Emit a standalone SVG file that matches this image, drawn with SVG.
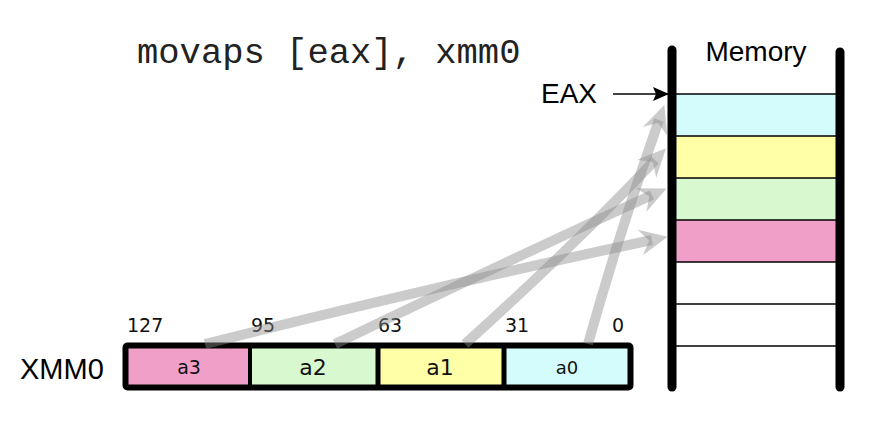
<svg xmlns="http://www.w3.org/2000/svg" width="886" height="428" viewBox="0 0 886 428">
<style>
.sans{font-family:"Liberation Sans",Arial,sans-serif;fill:#000}
.ver{font-family:"DejaVu Sans",Verdana,sans-serif;fill:#111}
.mono{font-family:"Liberation Mono","Courier New",monospace;fill:#222}
.flow{fill:none;stroke:#8c8c8c;stroke-opacity:0.45;stroke-width:10;marker-end:url(#ga)}
.row{stroke:#000;stroke-width:1.5}
.bar{stroke:#000;stroke-width:9;stroke-linecap:round}
</style>
<defs>
<marker id="ga" markerUnits="userSpaceOnUse" markerWidth="30" markerHeight="30" viewBox="0 0 30 30" refX="12" refY="15" orient="auto">
<path d="M0 2 L28 15 L0 28 L9 15 Z" fill="#8c8c8c" fill-opacity="0.45"/>
</marker>
<marker id="ba" markerUnits="userSpaceOnUse" markerWidth="16" markerHeight="16" viewBox="0 0 16 16" refX="15" refY="8" orient="auto">
<path d="M0 1 L16 8 L0 15 L3 8 Z" fill="#000"/>
</marker>
</defs>
<text class="mono" x="137" y="63" font-size="35.5">movaps [eax], xmm0</text>
<g id="memory">
<rect x="676" y="94" width="160" height="42" fill="#d4fcfc"/>
<rect x="676" y="136" width="160" height="42" fill="#ffffa8"/>
<rect x="676" y="178" width="160" height="42" fill="#d8f8d0"/>
<rect x="676" y="220" width="160" height="42" fill="#f0a0c8"/>
<line class="row" x1="676" y1="94" x2="836" y2="94"/>
<line class="row" x1="676" y1="136" x2="836" y2="136"/>
<line class="row" x1="676" y1="178" x2="836" y2="178"/>
<line class="row" x1="676" y1="220" x2="836" y2="220"/>
<line class="row" x1="676" y1="262" x2="836" y2="262"/>
<line class="row" x1="676" y1="304" x2="836" y2="304"/>
<line class="row" x1="676" y1="346" x2="836" y2="346"/>
<line class="bar" x1="672" y1="50" x2="672" y2="387"/>
<line class="bar" x1="840" y1="52" x2="840" y2="387"/>
<text class="sans" x="756" y="61" font-size="28" text-anchor="middle">Memory</text>
</g>
<g id="eax">
<text class="sans" x="541" y="103" font-size="28">EAX</text>
<line x1="613" y1="94" x2="668" y2="94" stroke="#000" stroke-width="1.5" marker-end="url(#ba)"/>
</g>
<g id="xmm0">
<text class="sans" x="20" y="379" font-size="29">XMM0</text>
<rect x="128" y="348" width="122" height="39" fill="#f0a0c8"/>
<rect x="250" y="348" width="128" height="39" fill="#d8f8d0"/>
<rect x="378" y="348" width="125" height="39" fill="#ffffa8"/>
<rect x="503" y="348" width="126" height="39" fill="#d4fcfc"/>
<rect x="125.5" y="345.5" width="505" height="42" fill="none" stroke="#000" stroke-width="6" rx="2"/>
<line x1="250" y1="346" x2="250" y2="388" stroke="#000" stroke-width="4"/>
<line x1="378" y1="346" x2="378" y2="388" stroke="#000" stroke-width="5"/>
<line x1="504" y1="346" x2="504" y2="388" stroke="#000" stroke-width="5"/>
<text class="ver" x="189" y="374" font-size="19" text-anchor="middle">a3</text>
<text class="ver" x="313" y="375" font-size="22" text-anchor="middle">a2</text>
<text class="ver" x="440" y="375" font-size="22" text-anchor="middle">a1</text>
<text class="ver" x="567" y="374" font-size="18" text-anchor="middle">a0</text>
<text class="ver" x="127" y="332" font-size="19">127</text>
<text class="ver" x="251" y="332" font-size="19">95</text>
<text class="ver" x="378" y="332" font-size="19">63</text>
<text class="ver" x="505" y="332" font-size="19">31</text>
<text class="ver" x="612" y="332" font-size="19">0</text>
</g>
<g id="connectors">
<path class="flow" d="M205 344 Q440 285 652 240"/>
<path class="flow" d="M335 344 Q520 255 652 195"/>
<path class="flow" d="M465 344 Q575 245 655 160"/>
<path class="flow" d="M588 344 Q620 230 659 120"/>
</g>
</svg>
